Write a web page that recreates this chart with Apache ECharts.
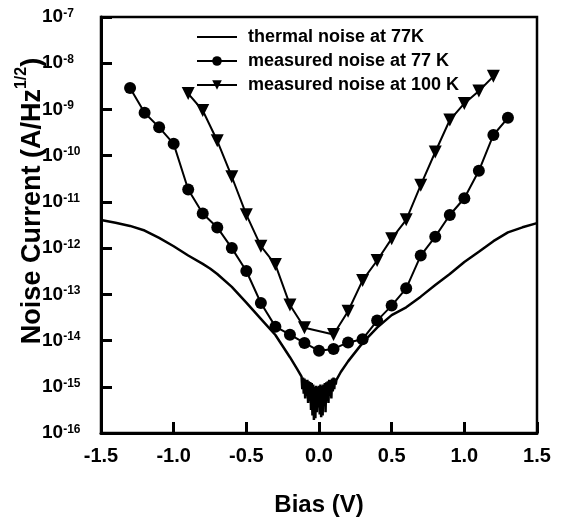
<!DOCTYPE html>
<html>
<head>
<meta charset="utf-8">
<script src="https://cdn.jsdelivr.net/npm/echarts@6/dist/echarts.min.js"></script>
<style>
  html, body { margin: 0; padding: 0; background: #fff; }
  #main { width: 562px; height: 518px; }
</style>
</head>
<body>
<div id="main"></div>
<script>
var FONT = '"Liberation Sans", Arial, sans-serif';

// measured noise at 77 K (circles)
var bias77 = [-1.3, -1.2, -1.1, -1.0, -0.9, -0.8, -0.7, -0.6, -0.5, -0.4, -0.3, -0.2, -0.1,
  0.0, 0.1, 0.2, 0.3, 0.4, 0.5, 0.6, 0.7, 0.8, 0.9, 1.0, 1.1, 1.2, 1.3];
var noise77 = [2.9e-9, 8.5e-10, 4.1e-10, 1.8e-10, 1.85e-11, 5.6e-12, 2.8e-12, 1.0e-12, 3.2e-13, 6.5e-14, 2.0e-14, 1.34e-14, 8.9e-15,
  6.0e-15, 6.6e-15, 9.1e-15, 1.07e-14, 2.7e-14, 5.7e-14, 1.35e-13, 6.9e-13, 1.77e-12, 5.2e-12, 1.2e-11, 4.7e-11, 2.8e-10, 6.6e-10];

// measured noise at 100 K (triangles), no point at 0 V
var bias100 = [-0.9, -0.8, -0.7, -0.6, -0.5, -0.4, -0.3, -0.2, -0.1,
  0.1, 0.2, 0.3, 0.4, 0.5, 0.6, 0.7, 0.8, 0.9, 1.0, 1.1, 1.2];
var noise100 = [2.2e-9, 9.5e-10, 2.1e-10, 3.5e-11, 5.3e-12, 1.1e-12, 4.4e-13, 5.9e-14, 1.9e-14,
  1.35e-14, 4.3e-14, 2.0e-13, 5.4e-13, 1.6e-12, 4.1e-12, 2.3e-11, 1.2e-10, 5.9e-10, 1.35e-9, 2.5e-9, 5.2e-9];

// thermal noise at 77K, read as log10 of the current (noisy near 0 V)
var thermalBias = [-1.5, -1.4, -1.3, -1.2, -1.1, -1.0, -0.9, -0.8, -0.75, -0.7, -0.6, -0.5, -0.4, -0.3, -0.2, -0.15,
  -0.12, -0.115, -0.11, -0.105, -0.1, -0.095, -0.09, -0.085, -0.08, -0.075, -0.07, -0.065, -0.06, -0.055, -0.05, -0.045,
  -0.04, -0.035, -0.03, -0.025, -0.02, -0.015, -0.01, -0.005, 0.0, 0.005, 0.01, 0.015, 0.02, 0.025, 0.03, 0.035,
  0.04, 0.045, 0.05, 0.055, 0.06, 0.065, 0.07, 0.075, 0.08, 0.085, 0.09, 0.095, 0.1, 0.105, 0.11, 0.115, 0.12,
  0.15, 0.2, 0.3, 0.4, 0.5, 0.6, 0.7, 0.8, 0.9, 1.0, 1.1, 1.2, 1.3, 1.4, 1.5];
var thermalExp = [-11.39, -11.45, -11.52, -11.62, -11.78, -11.96, -12.16, -12.34, -12.44, -12.56, -12.84, -13.18, -13.53, -13.88, -14.36, -14.62,
  -14.78, -15.05, -14.80, -15.15, -14.82, -15.25, -14.85, -15.20, -14.85, -15.35, -14.88, -15.30, -14.90, -15.50, -14.92, -15.62,
  -14.95, -15.72, -15.00, -15.68, -14.98, -15.55, -15.00, -15.45, -14.98, -15.60, -14.95, -15.66, -14.98, -15.62, -14.95, -15.40,
  -14.92, -15.55, -14.90, -15.30, -14.88, -15.35, -14.85, -15.20, -14.85, -15.25, -14.82, -15.10, -14.80, -15.05, -14.82, -14.95, -14.85,
  -14.68, -14.45, -14.05, -13.72, -13.45, -13.28, -13.05, -12.80, -12.56, -12.30, -12.08, -11.85, -11.66, -11.55, -11.46];

var xTicks = [-1.5, -1.0, -0.5, 0.0, 0.5, 1.0, 1.5];

function pairs(xs, ys) {
  var out = [];
  for (var i = 0; i < xs.length; i++) {
    out.push([xs[i], ys[i]]);
  }
  return out;
}

var thermalVals = thermalExp.map(function(e) { return Math.pow(10, e); });

var myChart = echarts.init(document.getElementById('main'));
var option = {
  animation: false,
  backgroundColor: '#fff',
  textStyle: { fontFamily: FONT },
  grid: {
    left: 101,
    right: 25,
    top: 17,
    bottom: 85,
    outerBoundsMode: 'none',
    containLabel: false,
    show: true,
    borderColor: '#000',
    borderWidth: 2.5
  },
  legend: {
    orient: 'vertical',
    left: 191,
    top: 23,
    itemGap: 6,
    itemWidth: 40,
    itemHeight: 12,
    textStyle: { fontFamily: FONT, fontWeight: 'bold', fontSize: 18, color: '#000', padding: [0, 0, 0, 6] },
    data: [
      { name: 'thermal noise at 77K', itemStyle: { opacity: 0 } },
      'measured noise at 77 K',
      'measured noise at 100 K'
    ]
  },
  xAxis: {
    type: 'value',
    min: -1.5,
    max: 1.5,
    interval: 0.5,
    name: 'Bias (V)',
    nameLocation: 'middle',
    nameGap: 60,
    nameMoveOverlap: false,
    nameTextStyle: { fontFamily: FONT, fontWeight: 'bold', fontSize: 24, color: '#000' },
    axisLine: { lineStyle: { color: '#000', width: 3 } },
    axisTick: { inside: true, length: 11, lineStyle: { color: '#000', width: 3 } },
    splitLine: { show: false },
    axisLabel: {
      margin: 13,
      fontFamily: FONT,
      fontWeight: 'bold',
      fontSize: 20,
      color: '#000',
      formatter: function(v) {
        return xTicks.indexOf(v) >= 0 ? v.toFixed(1) : '';
      }
    }
  },
  yAxis: {
    type: 'log',
    logBase: 10,
    min: 1e-16,
    max: 1e-7,
    interval: 1,
    name: '{t|Noise Current (A/Hz}{s|1/2}{t|)}',
    nameLocation: 'middle',
    nameGap: 55,
    nameRotate: 90,
    nameMoveOverlap: false,
    nameTextStyle: {
      padding: [0, 0, 0, 48],
      rich: {
        t: { fontFamily: FONT, fontWeight: 'bold', fontSize: 27, color: '#000', lineHeight: 32, verticalAlign: 'bottom' },
        s: { fontFamily: FONT, fontWeight: 'bold', fontSize: 16, color: '#000', lineHeight: 16, verticalAlign: 'top' }
      }
    },
    axisLine: { onZero: false, lineStyle: { color: '#000', width: 3 } },
    axisTick: { inside: true, length: 11, lineStyle: { color: '#000', width: 3 } },
    minorTick: { show: false },
    splitLine: { show: false },
    axisLabel: {
      align: 'left',
      margin: 59,
      formatter: function(v) {
        var e = Math.round(Math.log(v) / Math.LN10);
        return '{b|10}{s|' + e + '}';
      },
      rich: {
        b: { fontFamily: FONT, fontWeight: 'bold', fontSize: 19, color: '#000', lineHeight: 19, padding: [5, 0, 0, 0], verticalAlign: 'bottom' },
        s: { fontFamily: FONT, fontWeight: 'bold', fontSize: 12, color: '#000', lineHeight: 12, verticalAlign: 'top' }
      }
    }
  },
  series: [
    {
      name: 'thermal noise at 77K',
      type: 'line',
      symbol: 'none',
      lineStyle: { color: '#000', width: 2.5 },
      itemStyle: { color: '#000' },
      data: pairs(thermalBias, thermalVals)
    },
    {
      name: 'measured noise at 77 K',
      type: 'line',
      symbol: 'circle',
      symbolSize: 12,
      lineStyle: { color: '#000', width: 2 },
      itemStyle: { color: '#000' },
      data: pairs(bias77, noise77)
    },
    {
      name: 'measured noise at 100 K',
      type: 'line',
      symbol: 'triangle',
      symbolRotate: 180,
      symbolSize: 13,
      lineStyle: { color: '#000', width: 2 },
      itemStyle: { color: '#000' },
      data: pairs(bias100, noise100)
    }
  ]
};
myChart.setOption(option);
</script>
</body>
</html>
